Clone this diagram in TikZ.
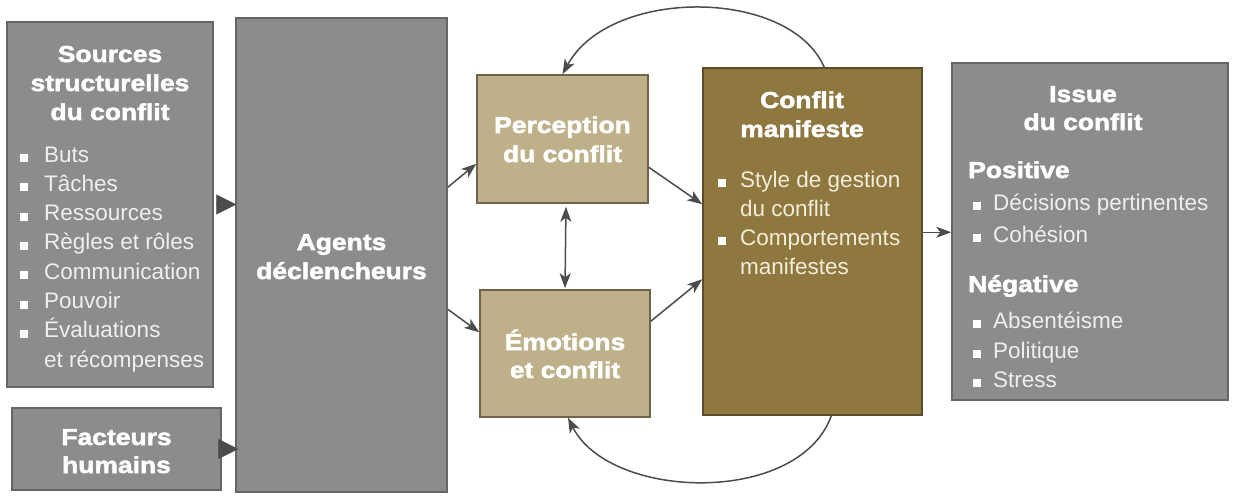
\documentclass[tikz,border=0pt]{standalone}
\usepackage{fontspec}
\usetikzlibrary{arrows.meta,calc}
\setmainfont{Liberation Sans}
\newfontfamily\ttlfam{Liberation Sans}[UprightFont={* Bold},FakeStretch=1.15,FakeBold=2.2]
\newfontfamily\lstfam{Liberation Sans}
\definecolor{boxgray}{HTML}{8C8C8E}
\definecolor{grayedge}{HTML}{666666}
\definecolor{tanfill}{HTML}{BEB088}
\definecolor{tanedge}{HTML}{6E6448}
\definecolor{olivefill}{HTML}{8F7840}
\definecolor{oliveedge}{HTML}{5C4C28}
\definecolor{arrowc}{HTML}{4C4C4C}
\definecolor{lighttxt}{HTML}{EFEFEF}
\definecolor{lighttan}{HTML}{F2ECD8}
\newcommand\bsq[1]{\makebox[#1][l]{\textcolor{white}{\rule{8pt}{8pt}}}}
\begin{document}
\begin{tikzpicture}[x=1pt,y=-1pt,
  gbox/.style={draw=grayedge,fill=boxgray,line width=1.5pt,inner sep=0},
  tbox/.style={draw=tanedge,fill=tanfill,line width=1.5pt,inner sep=0},
  obox/.style={draw=oliveedge,fill=olivefill,line width=1.5pt,inner sep=0},
  ttl/.style={anchor=base,inner sep=0,text=white,font=\ttlfam\fontsize{23}{28}\selectfont},
  sub/.style={anchor=base west,inner sep=0,text=white,font=\ttlfam\fontsize{23}{28}\selectfont},
  lst/.style={anchor=base west,inner sep=0,text=lighttxt,font=\lstfam\fontsize{22.5}{28}\selectfont},
  tip/.tip={Stealth[length=15pt,width=11pt,inset=4pt]},
  arr/.style={draw=arrowc,line width=1.5pt,-tip},
  darr/.style={draw=arrowc,line width=1.5pt,tip-tip},
  tri/.style={draw=arrowc,line width=0.8pt,-{Triangle[length=20pt,width=20pt]},color=arrowc}
]
\useasboundingbox[fill=white] (0,0) rectangle (1236,495);

% boxes
\node[gbox,minimum width=206,minimum height=365] (src) at (110,204.5) {};
\node[gbox,minimum width=209,minimum height=82] (fact) at (116.5,449) {};
\node[gbox,minimum width=211,minimum height=474] (agents) at (341.5,255) {};
\node[tbox,minimum width=171,minimum height=128] (perc) at (562.5,139) {};
\node[tbox,minimum width=170,minimum height=127] (emo) at (565,353.5) {};
\node[obox,minimum width=219,minimum height=347] (conf) at (812.5,241.5) {};
\node[gbox,minimum width=276,minimum height=337] (issue) at (1090,231.5) {};

% Sources
\node[ttl] (s1) at (110,62) {Sources};
\node[ttl] (s2) at (110,91) {structurelles};
\node[ttl] (s3) at (110,120) {du conflit};
\node[lst] (l1) at (20,162) {\bsq{24pt}Buts};
\node[lst] (l2) at (20,191.3) {\bsq{24pt}Tâches};
\node[lst] (l3) at (20,220.6) {\bsq{24pt}Ressources};
\node[lst] (l4) at (20,249.9) {\bsq{24pt}Règles et rôles};
\node[lst] (l5) at (20,279.2) {\bsq{24pt}Communication};
\node[lst] (l6) at (20,308.5) {\bsq{24pt}Pouvoir};
\node[lst] (l7) at (20,337.8) {\bsq{24pt}Évaluations};
\node[lst] (l8) at (44,367.1) {et récompenses};

% Facteurs
\node[ttl] (f1) at (116.5,445) {Facteurs};
\node[ttl] (f2) at (116.5,473) {humains};

% Agents
\node[ttl] (a1) at (341.5,250) {Agents};
\node[ttl] (a2) at (341.5,279) {déclencheurs};

% Perception / Emotions
\node[ttl] (p1) at (562.5,133) {Perception};
\node[ttl] (p2) at (562.5,162) {du conflit};
\node[ttl] (e1) at (565,350) {Émotions};
\node[ttl] (e2) at (565,378) {et conflit};

% Conflit manifeste
\node[ttl] (c1) at (802,108) {Conflit};
\node[ttl] (c2) at (802,137) {manifeste};
\node[lst,text=lighttan] (m1) at (718,187) {\bsq{22pt}Style de gestion};
\node[lst,text=lighttan] (m2) at (740,216) {du conflit};
\node[lst,text=lighttan] (m3) at (718,245) {\bsq{22pt}Comportements};
\node[lst,text=lighttan] (m4) at (740,274) {manifestes};

% Issue
\node[ttl] (i1) at (1083,102) {Issue};
\node[ttl] (i2) at (1083,130) {du conflit};
\node[sub] (i3) at (968,178) {Positive};
\node[lst] (i4) at (973,210) {\bsq{20pt}Décisions pertinentes};
\node[lst] (i5) at (973,242) {\bsq{20pt}Cohésion};
\node[sub] (i6) at (968,292) {Négative};
\node[lst] (i7) at (973,328) {\bsq{20pt}Absentéisme};
\node[lst] (i8) at (973,358) {\bsq{20pt}Politique};
\node[lst] (i9) at (973,387) {\bsq{20pt}Stress};

% connectors
\draw[tri,shorten <=4pt,shorten >=-1pt] (src.east) -- (src.east -| agents.west);
\draw[tri,shorten <=2pt,shorten >=-3pt] (fact.east) -- (fact.east -| agents.west);

\draw[arr] ($(agents.north east)+(0,170)$) -- ($(perc.south west)+(0,-40)$);
\draw[arr] ($(agents.north east)+(0,292)$) -- ($(emo.north west)+(0,43)$);
\draw[arr] ($(perc.north east)+(0,93)$) -- ($(conf.north west)+(0,137)$);
\draw[arr] ($(emo.north east)+(0,32)$) -- ($(conf.north west)+(0,212)$);
\draw[darr,shorten <=3pt,shorten >=1pt] ($(perc.south)+(3.5,0)$) -- ($(emo.south)!1!(emo.north)$);
\coordinate (ct) at ($(conf.north west)+(122,0)$);
\coordinate (cb) at ($(conf.south west)+(129,0)$);
\draw[arr] (ct) .. controls ($(ct)+(-35,-80)$) and ($(perc.north)+(47,-87)$) .. (perc.north);
\draw[arr] (cb) .. controls ($(cb)+(-32,90)$) and ($(emo.south)+(45,83)$) .. ($(emo.south)+(3,0)$);
\draw[arr] ($(conf.north east)+(0,165)$) -- ($(issue.north west)+(0,170)$);
\end{tikzpicture}
\end{document}
